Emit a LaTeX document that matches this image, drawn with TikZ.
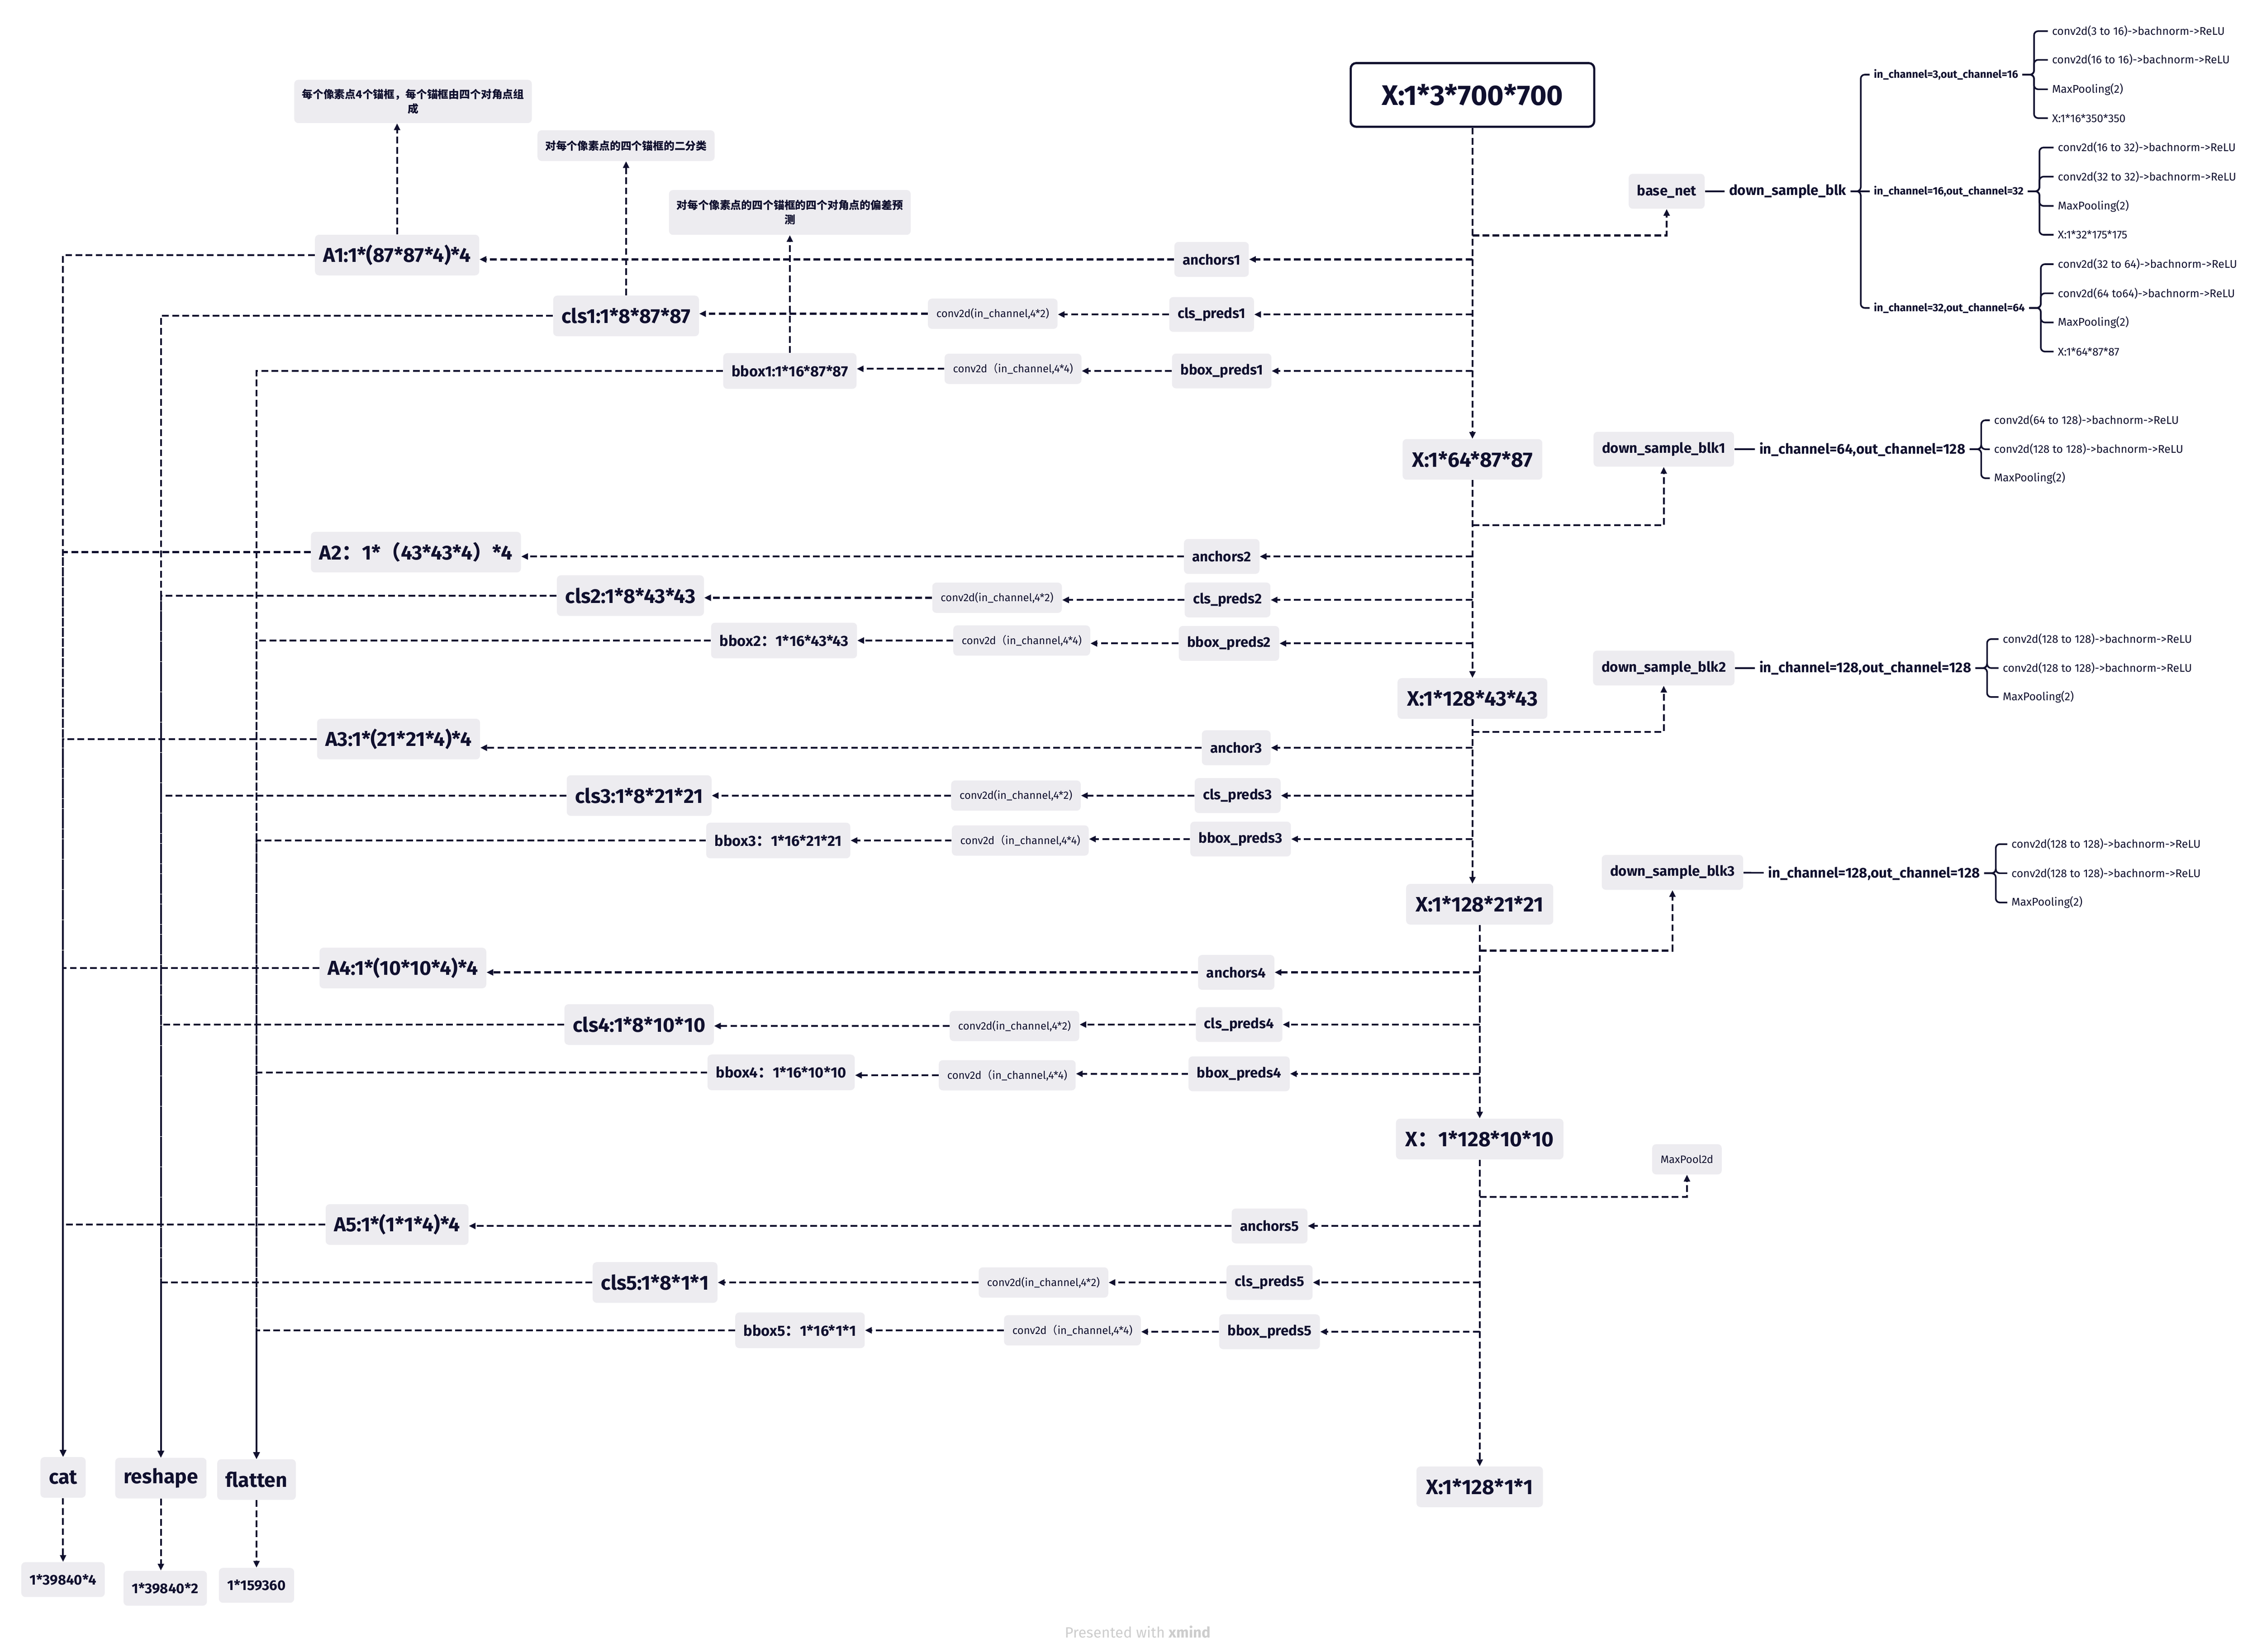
\documentclass[tikz,border=0pt]{standalone}
\usepackage{fontspec}
\setmainfont{Fira Sans}
\newfontfamily\cjk{Noto Sans CJK SC}
\usetikzlibrary{arrows.meta}
\definecolor{ink}{RGB}{16,16,46}
\definecolor{boxgray}{RGB}{237,236,240}
\definecolor{markgray}{RGB}{205,205,205}
\newcommand{\zcol}{{\cjk ：}}
\newcommand{\zlp}{{\cjk （}}
\newcommand{\zrp}{{\cjk ）}}
\tikzset{
  box/.style={fill=boxgray, text=ink, rounded corners=3pt, inner xsep=0.22cm, inner ysep=0pt},
  big/.style={box, minimum height=1.06cm, font=\bfseries\fontsize{15}{17}\selectfont},
  dims/.style={box, minimum height=1.06cm, inner xsep=0.25cm, font=\bfseries\fontsize{15.5}{17}\selectfont},
  mid/.style={box, minimum height=0.91cm, font=\bfseries\fontsize{10.5}{12}\selectfont},
  bbx/.style={box, minimum height=0.93cm, font=\bfseries\fontsize{11}{13}\selectfont},
  conv/.style={box, minimum height=0.79cm, font=\fontsize{8}{10}\selectfont},
  note/.style={box, align=center, inner xsep=0.2cm, font=\cjk\bfseries\fontsize{8}{10.8}\selectfont},
  xin/.style={draw=ink, line width=1.6pt, fill=white, text=ink, rounded corners=4pt,
    minimum width=6.35cm, minimum height=1.66cm, font=\bfseries\fontsize{21}{24}\selectfont},
  btext/.style={text=ink, inner xsep=3pt, font=\bfseries\fontsize{10.5}{12}\selectfont},
  gtext/.style={text=ink, anchor=west, inner xsep=3pt, font=\bfseries\fontsize{8}{10}\selectfont},
  dtext/.style={text=ink, anchor=west, inner xsep=3pt, font=\bfseries\fontsize{10.5}{12}\selectfont},
  leaf/.style={text=ink, anchor=west, inner xsep=3pt, font=\fontsize{8.3}{10}\selectfont},
  dflow/.style={draw=ink, line width=1.4pt, dash pattern=on 5pt off 2.5pt,
    -{Triangle[length=5pt,width=4.5pt]}},
  treeline/.style={draw=ink, line width=1.2pt, rounded corners=3pt},
}
\begin{document}
\begin{tikzpicture}[x=0.0378cm, y=-0.0378cm]
	\useasboundingbox (0,0) rectangle (1560.8,1139.7);
	% trunk
	\node[xin] (X0) at (1016,65.5) {X:1*3*700*700};
	\node[dims] (X1) at (1016,317) {X:1*64*87*87};
	\node[dims] (X2) at (1016,482) {X:1*128*43*43};
	\node[dims] (X3) at (1021,624) {X:1*128*21*21};
	\node[dims] (X4) at (1021,786) {X\zcol 1*128*10*10};
	\node[dims] (X5) at (1021,1026) {X:1*128*1*1};
	% base net
	\node[mid] (BN) at (1150,132) {base\_net};
	\node[btext] (DSB) at (1233.5,132) {down\_sample\_blk};
	\node[gtext] (G1) at (1290,51.5) {in\_channel=3,out\_channel=16};
	\node[gtext] (G2) at (1290,132) {in\_channel=16,out\_channel=32};
	\node[gtext] (G3) at (1290,212.5) {in\_channel=32,out\_channel=64};
	\node[leaf] (L11) at (1413,21.5) {conv2d(3 to 16)->bachnorm->ReLU};
	\node[leaf] (L12) at (1413,41.3) {conv2d(16 to 16)->bachnorm->ReLU};
	\node[leaf] (L13) at (1413,61.6) {MaxPooling(2)};
	\node[leaf] (L14) at (1413,81.5) {X:1*16*350*350};
	\node[leaf] (L21) at (1417,101.8) {conv2d(16 to 32)->bachnorm->ReLU};
	\node[leaf] (L22) at (1417,121.9) {conv2d(32 to 32)->bachnorm->ReLU};
	\node[leaf] (L23) at (1417,142.1) {MaxPooling(2)};
	\node[leaf] (L24) at (1417,162) {X:1*32*175*175};
	\node[leaf] (L31) at (1417,182.3) {conv2d(32 to 64)->bachnorm->ReLU};
	\node[leaf] (L32) at (1417,202.4) {conv2d(64 to64)->bachnorm->ReLU};
	\node[leaf] (L33) at (1417,222.5) {MaxPooling(2)};
	\node[leaf] (L34) at (1417,242.6) {X:1*64*87*87};
	% down sample blocks
	\node[mid] (D1) at (1148,310) {down\_sample\_blk1};
	\node[dtext] (T1) at (1211,310) {in\_channel=64,out\_channel=128};
	\node[leaf] (E11) at (1373,290) {conv2d(64 to 128)->bachnorm->ReLU};
	\node[leaf] (E12) at (1373,310) {conv2d(128 to 128)->bachnorm->ReLU};
	\node[leaf] (E13) at (1373,330) {MaxPooling(2)};
	\node[mid] (D2) at (1148,461) {down\_sample\_blk2};
	\node[dtext] (T2) at (1211,461) {in\_channel=128,out\_channel=128};
	\node[leaf] (E21) at (1379,441) {conv2d(128 to 128)->bachnorm->ReLU};
	\node[leaf] (E22) at (1379,461) {conv2d(128 to 128)->bachnorm->ReLU};
	\node[leaf] (E23) at (1379,481) {MaxPooling(2)};
	\node[mid] (D3) at (1154,602) {down\_sample\_blk3};
	\node[dtext] (T3) at (1217,602.6) {in\_channel=128,out\_channel=128};
	\node[leaf] (E31) at (1385,582.5) {conv2d(128 to 128)->bachnorm->ReLU};
	\node[leaf] (E32) at (1385,602.6) {conv2d(128 to 128)->bachnorm->ReLU};
	\node[leaf] (E33) at (1385,622.8) {MaxPooling(2)};
	\node[conv] (M) at (1164,800) {MaxPool2d};
	% row 1
	\node[mid] (AN1) at (836,179) {anchors1};
	\node[mid] (CP1) at (836,217) {cls\_preds1};
	\node[mid] (BP1) at (843,256) {bbox\_preds1};
	\node[conv] (CV1) at (685,216.5) {conv2d(in\_channel,4*2)};
	\node[conv] (BV1) at (699,254.5) {conv2d\zlp in\_channel,4*4)};
	\node[big] (A1) at (274,176) {A1:1*(87*87*4)*4};
	\node[big] (C1) at (432,218) {cls1:1*8*87*87};
	\node[bbx] (B1) at (545,256) {bbox1:1*16*87*87};
	% row 2
	\node[mid] (AN2) at (843,384) {anchors2};
	\node[mid] (CP2) at (847,414) {cls\_preds2};
	\node[mid] (BP2) at (848,444) {bbox\_preds2};
	\node[conv] (CV2) at (688,412.5) {conv2d(in\_channel,4*2)};
	\node[conv] (BV2) at (705,442) {conv2d\zlp in\_channel,4*4)};
	\node[big] (A2) at (287,381) {A2\zcol 1*\zlp 43*43*4\zrp *4};
	\node[big] (C2) at (435,411) {cls2:1*8*43*43};
	\node[bbx] (B2) at (541,442) {bbox2\zcol 1*16*43*43};
	% row 3
	\node[mid] (AN3) at (853,516) {anchor3};
	\node[mid] (CP3) at (854,549) {cls\_preds3};
	\node[mid] (BP3) at (856,579) {bbox\_preds3};
	\node[conv] (CV3) at (701,549) {conv2d(in\_channel,4*2)};
	\node[conv] (BV3) at (704,580) {conv2d\zlp in\_channel,4*4)};
	\node[big] (A3) at (275,510) {A3:1*(21*21*4)*4};
	\node[big] (C3) at (441,549) {cls3:1*8*21*21};
	\node[bbx] (B3) at (537,580) {bbox3\zcol 1*16*21*21};
	% row 4
	\node[mid] (AN4) at (853,671) {anchors4};
	\node[mid] (CP4) at (855,707) {cls\_preds4};
	\node[mid] (BP4) at (855,741) {bbox\_preds4};
	\node[conv] (CV4) at (700,708) {conv2d(in\_channel,4*2)};
	\node[conv] (BV4) at (695,742) {conv2d\zlp in\_channel,4*4)};
	\node[big] (A4) at (278,668) {A4:1*(10*10*4)*4};
	\node[big] (C4) at (441,707) {cls4:1*8*10*10};
	\node[bbx] (B4) at (539,740) {bbox4\zcol 1*16*10*10};
	% row 5
	\node[mid] (AN5) at (876,846) {anchors5};
	\node[mid] (CP5) at (876,885) {cls\_preds5};
	\node[mid] (BP5) at (876,919) {bbox\_preds5};
	\node[conv] (CV5) at (720,885) {conv2d(in\_channel,4*2)};
	\node[conv] (BV5) at (740,918) {conv2d\zlp in\_channel,4*4)};
	\node[big] (A5) at (274,845) {A5:1*(1*1*4)*4};
	\node[big] (C5) at (452,885) {cls5:1*8*1*1};
	\node[bbx] (B5) at (552,918) {bbox5\zcol 1*16*1*1};
	% notes
	\node[note, minimum height=1.13cm] (N1) at (285,70) {每个像素点4个锚框，每个锚框由四个对角点组\\成};
	\node[note, minimum height=0.8cm] (N2) at (432,100.5) {对每个像素点的四个锚框的二分类};
	\node[note, minimum height=1.17cm] (N3) at (545,146.6) {对每个像素点的四个锚框的四个对角点的偏差预\\测};
	% outputs
	\node[big] (CAT) at (43.5,1019.5) {cat};
	\node[big] (RS) at (111,1020) {reshape};
	\node[big] (FL) at (177,1021) {flatten};
	\node[mid] (R1) at (43.5,1090) {1*39840*4};
	\node[mid] (R2) at (114,1096) {1*39840*2};
	\node[mid] (R3) at (177,1094) {1*159360};
	\node[text=markgray, font=\fontsize{11}{13}\selectfont] (WM) at (785,1126) {Presented with \textbf{xmind}};

	% trunk arrows
	\draw[dflow] (X0) -- (X1);
	\draw[dflow] (X1) -- (X2);
	\draw[dflow] (X2.south) -- (X2.south |- X3.north);
	\draw[dflow] (X3) -- (X4);
	\draw[dflow] (X4) -- (X5);
	\coordinate (K0) at (1016,162.5);
	\coordinate (K1) at (1016,362.5);
	\coordinate (K2) at (1016,505);
	\coordinate (K3) at (1021,656);
	\coordinate (K4) at (1021,826);
	\draw[dflow] (K0) -| (BN);
	\draw[dflow] (K1) -| (D1);
	\draw[dflow] (K2) -| (D2);
	\draw[dflow] (K3) -| (D3);
	\draw[dflow] (K4) -| (M);
	\draw[dflow] (X0.south |- AN1) -- (AN1);
	\draw[dflow] (X0.south |- CP1) -- (CP1);
	\draw[dflow] (X0.south |- BP1) -- (BP1);
	\draw[dflow] (X1.south |- AN2) -- (AN2);
	\draw[dflow] (X1.south |- CP2) -- (CP2);
	\draw[dflow] (X1.south |- BP2) -- (BP2);
	\draw[dflow] (X2.south |- AN3) -- (AN3);
	\draw[dflow] (X2.south |- CP3) -- (CP3);
	\draw[dflow] (X2.south |- BP3) -- (BP3);
	\draw[dflow] (X3.south |- AN4) -- (AN4);
	\draw[dflow] (X3.south |- CP4) -- (CP4);
	\draw[dflow] (X3.south |- BP4) -- (BP4);
	\draw[dflow] (X4.south |- AN5) -- (AN5);
	\draw[dflow] (X4.south |- CP5) -- (CP5);
	\draw[dflow] (X4.south |- BP5) -- (BP5);
	% heads
	\draw[dflow] (AN1) -- (AN1 -| A1.east);
	\draw[dflow] (CP1) -- (CP1 -| CV1.east);
	\draw[dflow] (CV1) -- (CV1 -| C1.east);
	\draw[dflow] (BP1) -- (BP1 -| BV1.east);
	\draw[dflow] (BV1) -- (BV1 -| B1.east);
	\draw[dflow] (AN2) -- (AN2 -| A2.east);
	\draw[dflow] (CP2) -- (CP2 -| CV2.east);
	\draw[dflow] (CV2) -- (CV2 -| C2.east);
	\draw[dflow] (BP2) -- (BP2 -| BV2.east);
	\draw[dflow] (BV2) -- (BV2 -| B2.east);
	\draw[dflow] (AN3) -- (AN3 -| A3.east);
	\draw[dflow] (CP3) -- (CP3 -| CV3.east);
	\draw[dflow] (CV3) -- (CV3 -| C3.east);
	\draw[dflow] (BP3) -- (BP3 -| BV3.east);
	\draw[dflow] (BV3) -- (BV3 -| B3.east);
	\draw[dflow] (AN4) -- (AN4 -| A4.east);
	\draw[dflow] (CP4) -- (CP4 -| CV4.east);
	\draw[dflow] (CV4) -- (CV4 -| C4.east);
	\draw[dflow] (BP4) -- (BP4 -| BV4.east);
	\draw[dflow] (BV4) -- (BV4 -| B4.east);
	\draw[dflow] (AN5) -- (AN5 -| A5.east);
	\draw[dflow] (CP5) -- (CP5 -| CV5.east);
	\draw[dflow] (CV5) -- (CV5 -| C5.east);
	\draw[dflow] (BP5) -- (BP5 -| BV5.east);
	\draw[dflow] (BV5) -- (BV5 -| B5.east);
	% notes
	\draw[dflow] (A1) -- (A1 |- N1.south);
	\draw[dflow] (C1) -- (C1 |- N2.south);
	\draw[dflow] (B1) -- (B1 |- N3.south);
	% collectors
	\draw[dflow] (A1) -| (CAT);
	\draw[dflow] (A2) -| (CAT);
	\draw[dflow] (A3) -| (CAT);
	\draw[dflow] (A4) -| (CAT);
	\draw[dflow] (A5) -| (CAT);
	\draw[dflow] (C1) -| (RS);
	\draw[dflow] (C2) -| (RS);
	\draw[dflow] (C3) -| (RS);
	\draw[dflow] (C4) -| (RS);
	\draw[dflow] (C5) -| (RS);
	\draw[dflow] (B1) -| (FL);
	\draw[dflow] (B2) -| (FL);
	\draw[dflow] (B3) -| (FL);
	\draw[dflow] (B4) -| (FL);
	\draw[dflow] (B5) -| (FL);
	\draw[dflow] (CAT) -- (CAT |- R1.north);
	\draw[dflow] (RS) -- (RS |- R2.north);
	\draw[dflow] (FL) -- (FL |- R3.north);
	% right tree
	\draw[treeline] (BN) -- (DSB);
	\draw[treeline] (DSB.east) -- ++(7,0) |- (G1.west);
	\draw[treeline] (DSB.east) -- (G2.west);
	\draw[treeline] (DSB.east) -- ++(7,0) |- (G3.west);
	\draw[treeline] (G1.east) -- ++(8,0) |- (L11.west);
	\draw[treeline] (G1.east) -- ++(8,0) |- (L12.west);
	\draw[treeline] (G1.east) -- ++(8,0) |- (L13.west);
	\draw[treeline] (G1.east) -- ++(8,0) |- (L14.west);
	\draw[treeline] (G2.east) -- ++(8,0) |- (L21.west);
	\draw[treeline] (G2.east) -- ++(8,0) |- (L22.west);
	\draw[treeline] (G2.east) -- ++(8,0) |- (L23.west);
	\draw[treeline] (G2.east) -- ++(8,0) |- (L24.west);
	\draw[treeline] (G3.east) -- ++(8,0) |- (L31.west);
	\draw[treeline] (G3.east) -- ++(8,0) |- (L32.west);
	\draw[treeline] (G3.east) -- ++(8,0) |- (L33.west);
	\draw[treeline] (G3.east) -- ++(8,0) |- (L34.west);
	\draw[treeline] (D1) -- (T1);
	\draw[treeline] (T1.east) -- ++(8,0) |- (E11.west);
	\draw[treeline] (T1.east) -- ++(8,0) |- (E12.west);
	\draw[treeline] (T1.east) -- ++(8,0) |- (E13.west);
	\draw[treeline] (D2) -- (T2);
	\draw[treeline] (T2.east) -- ++(8,0) |- (E21.west);
	\draw[treeline] (T2.east) -- ++(8,0) |- (E22.west);
	\draw[treeline] (T2.east) -- ++(8,0) |- (E23.west);
	\draw[treeline] (D3) -- (T3);
	\draw[treeline] (T3.east) -- ++(8,0) |- (E31.west);
	\draw[treeline] (T3.east) -- ++(8,0) |- (E32.west);
	\draw[treeline] (T3.east) -- ++(8,0) |- (E33.west);
\end{tikzpicture}
\end{document}
